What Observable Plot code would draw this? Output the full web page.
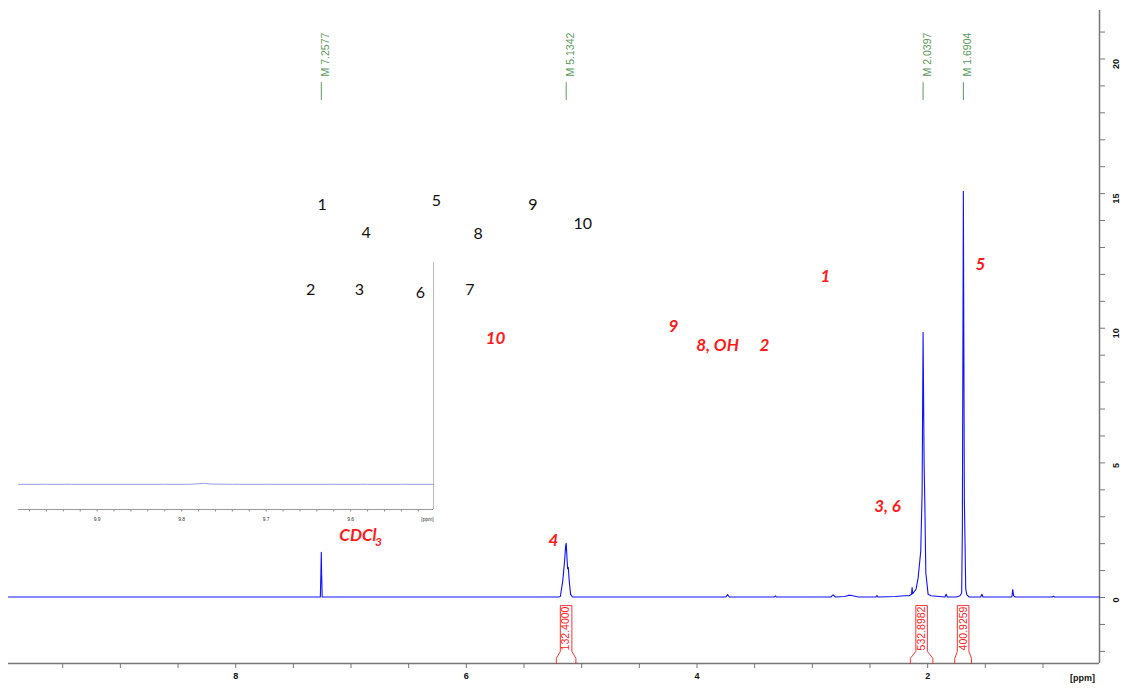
<!DOCTYPE html>
<html><head><meta charset="utf-8">
<script src="https://cdn.jsdelivr.net/npm/d3@7"></script>
<script src="https://cdn.jsdelivr.net/npm/@observablehq/plot@0.6"></script>
<style>
body{margin:0;background:#fff;}
#wrap{position:relative;width:1126px;height:690px;overflow:hidden;}
#main{position:absolute;left:0;top:0;}
#inset{position:absolute;left:0;top:262px;}
svg{background:transparent !important;}
</style></head><body><div id="wrap"><div id="main"></div><div id="inset"></div></div>
<script>
// ---- main 1H spectrum (ppm, intensity) ----
const ppm = [9.97, 9.5, 9.0, 8.5, 8.0, 7.6, 7.30, 7.266, 7.261, 7.2577, 7.255, 7.250, 7.0, 6.5, 6.0, 5.5,
  5.20, 5.185, 5.164, 5.148, 5.139, 5.1342, 5.128, 5.122, 5.116, 5.108, 5.096, 5.08, 4.5, 4.0,
  3.75, 3.735, 3.72, 3.33, 3.32, 3.31, 2.84, 2.82, 2.80, 2.72, 2.69, 2.66, 2.62, 2.60, 2.45, 2.44, 2.43,
  2.28, 2.20, 2.16, 2.14, 2.135, 2.13, 2.10, 2.083, 2.060, 2.048, 2.0397, 2.031, 2.025, 2.016, 1.996, 1.97,
  1.85, 1.84, 1.83, 1.75, 1.72, 1.705, 1.699, 1.6904, 1.682, 1.67, 1.66, 1.64,
  1.54, 1.53, 1.52, 1.27, 1.262, 1.255, 1.24, 0.92, 0.91, 0.90, 0.51];
const intensity = [0, 0, 0, 0, 0, 0, 0, 0, 0.9, 1.66, 0.85, 0, 0, 0, 0, 0,
  0, 0.02, 0.6, 1.35, 1.9, 2.0, 1.5, 1.05, 1.1, 0.6, 0.1, 0, 0, 0,
  0, 0.09, 0, 0, 0.04, 0, 0, 0.08, 0, 0.02, 0.06, 0.06, 0.02, 0, 0, 0.05, 0,
  0.02, 0.05, 0.05, 0.1, 0.35, 0.12, 0.3, 0.7, 1.7, 3.9, 9.83, 5.0, 3.6, 0.9, 0.1, 0.05,
  0, 0.1, 0, 0, 0.05, 0.15, 2.6, 15.07, 3.7, 0.3, 0.08, 0,
  0, 0.1, 0, 0, 0.28, 0.05, 0, 0, 0.03, 0, 0];

// ---- inset (9.99 – 9.50 ppm) ----
const insetPpm = [9.993, 9.96, 9.93, 9.90, 9.86, 9.82, 9.79, 9.782, 9.774, 9.766, 9.74, 9.70, 9.66, 9.62, 9.58, 9.54, 9.502];
const insetIntensity = [0, 0, 0, 0, 0, 0, 0, 0.015, 0.04, 0.01, 0, 0, 0, 0, 0, 0, 0];

// ---- peak markers ----
const markerPpm = [7.2577, 5.1342, 2.0397, 1.6904];
const markerText = ["M 7.2577", "M 5.1342", "M 2.0397", "M 1.6904"];

// ---- integrals ----
const integralFrom = [5.22, 2.15, 1.765];
const integralTo = [5.05, 1.955, 1.62];
const integralText = ["132.4000", "532.8982", "400.9259"];

// ---- structure atom numbers (black) ----
const atomText = ["1", "5", "9", "4", "8", "10", "2", "3", "6", "7"];
const atomPpm = [7.250, 6.259, 5.424, 6.869, 5.897, 4.990, 7.351, 6.927, 6.398, 5.970];
const atomInt = [14.58, 14.74, 14.58, 13.54, 13.51, 13.88, 11.44, 11.44, 11.30, 11.44];

// ---- peak assignments (red) ----
const assignText = ["1", "5", "9", "10", "8, OH", "2", "3, 6", "4", "CDCl"];
const assignPpm = [2.886, 1.542, 4.204, 5.747, 3.822, 3.415, 2.348, 5.244, 6.940];
const assignInt = [11.92, 12.37, 10.06, 9.62, 9.36, 9.36, 3.38, 2.12, 2.30];
const subText = ["3"], subPpm = [6.762], subInt = [2.04];

// ---- axis ticks ----
const xTicks = [9.5, 9, 8.5, 8, 7.5, 7, 6.5, 6, 5.5, 5, 4.5, 4, 3.5, 3, 2.5, 2, 1.5, 1];
const xTickLabels = [8, 6, 4, 2];
const yTicks = [-2, -1, 0, 1, 2, 3, 4, 5, 6, 7, 8, 9, 10, 11, 12, 13, 14, 15, 16, 17, 18, 19, 20, 21];
const yTickLabels = [0, 5, 10, 15, 20];
const insetTicks = [9.98, 9.96, 9.94, 9.92, 9.90, 9.88, 9.86, 9.84, 9.82, 9.80, 9.78, 9.76, 9.74, 9.72, 9.70, 9.68, 9.66, 9.64, 9.62, 9.60, 9.58, 9.56, 9.54, 9.52];
const insetTickLabels = [9.9, 9.8, 9.7, 9.6];

// ---- build tables ----
const spectrum = ppm.map((p, i) => ({p, v: intensity[i]}));
const insetSpec = insetPpm.map((p, i) => ({p, v: insetIntensity[i]}));
const markers = markerPpm.map((p, i) => ({p, t: markerText[i]}));
const atoms = atomText.map((t, i) => ({t, p: atomPpm[i], v: atomInt[i]}));
const assigns = assignText.map((t, i) => ({t, p: assignPpm[i], v: assignInt[i]}));
const subs = subText.map((t, i) => ({t, p: subPpm[i], v: subInt[i]}));
const XMIN = 9.97, XMAX = 0.51, YMIN = -2.45, YMAX = 21.8;
const hw = 0.05;
const integrals = integralText.map((t, i) => ({t, f: integralFrom[i], to: integralTo[i], c: (integralFrom[i] + integralTo[i]) / 2, id: i}));
const brackets = integrals.flatMap(d => [
  {id: d.id, p: d.f, v: YMIN}, {id: d.id, p: d.f, v: -2.26}, {id: d.id, p: d.c + hw, v: -2.0},
  {id: d.id, p: d.c + hw, v: -0.3}, {id: d.id, p: d.c - hw, v: -0.3}, {id: d.id, p: d.c - hw, v: -2.0},
  {id: d.id, p: d.to, v: -2.26}, {id: d.id, p: d.to, v: YMIN}
]);

const AX = "#767676", GREEN = "#5a9a5a", RED = "#ff1a1a", BLUE = "#1010ff";
const sans = "Liberation Sans, Arial, sans-serif";

const main = Plot.plot({
  width: 1126, height: 690,
  marginLeft: 8, marginRight: 27, marginTop: 10, marginBottom: 27,
  x: {domain: [XMIN, XMAX], axis: null},
  y: {domain: [YMIN, YMAX], axis: null},
  style: {background: "transparent", fontFamily: sans},
  marks: [
    Plot.axisX({anchor: "bottom", ticks: xTicks, tickSize: 5, tickFormat: () => "", stroke: AX, label: null}),
    Plot.axisY({anchor: "right", ticks: yTicks, tickSize: 5, tickFormat: () => "", stroke: AX, label: null}),
    Plot.ruleY([YMIN], {stroke: AX, strokeWidth: 1.5}),
    Plot.ruleX([XMAX], {stroke: AX, strokeWidth: 1.5}),
    Plot.text(xTickLabels, {x: d => d, frameAnchor: "bottom", dy: 15, text: d => String(d), fontWeight: "bold", fontSize: 9, fill: "#111"}),
    Plot.text(["[ppm]"], {frameAnchor: "bottom-right", dx: -17, dy: 17, text: d => d, textAnchor: "middle", fontWeight: "bold", fontSize: 9, fill: "#111"}),
    Plot.text(yTickLabels, {y: d => d, frameAnchor: "right", dx: 17, rotate: -90, text: d => String(d), fontWeight: "bold", fontSize: 9, fill: "#111"}),
    // integrals
    Plot.line(brackets, {x: "p", y: "v", z: "id", stroke: RED, strokeWidth: 0.9}),
    Plot.text(integrals, {x: "c", y: -1.15, text: "t", rotate: -90, fill: RED, fontSize: 10.5}),
    // spectrum
    Plot.line(spectrum, {x: "p", y: "v", stroke: BLUE, strokeWidth: 1.1, dy: -0.5}),
    // markers
    Plot.ruleX(markers, {x: "p", y1: 18.46, y2: 19.12, stroke: GREEN, strokeWidth: 1}),
    Plot.text(markers, {x: "p", frameAnchor: "top", dy: 44, text: "t", rotate: -90, fill: GREEN, fontSize: 10.5}),
    // structure numbers
    Plot.text(atoms, {x: "p", y: "v", text: "t", fill: "#111", fontSize: 16, fontFamily: "Lato, Open Sans, sans-serif"}),
    // assignments
    Plot.text(assigns, {x: "p", y: "v", text: "t", fill: RED, fontSize: 17, fontWeight: "bold", fontStyle: "italic", fontFamily: "Lato, Open Sans, sans-serif"}),
    Plot.text(subs, {x: "p", y: "v", text: "t", fill: RED, fontSize: 12, fontWeight: "bold", fontStyle: "italic", fontFamily: "Lato, Open Sans, sans-serif"})
  ]
});
document.getElementById("main").appendChild(main);

const inset = Plot.plot({
  width: 440, height: 262,
  marginLeft: 18, marginRight: 7, marginTop: 0, marginBottom: 15,
  x: {domain: [9.993, 9.502], axis: null},
  y: {domain: [-1, 9], axis: null},
  style: {background: "transparent", fontFamily: sans},
  marks: [
    Plot.axisX({anchor: "bottom", ticks: insetTicks, tickSize: 2.5, tickFormat: () => "", stroke: "#888", label: null}),
    Plot.ruleY([-1], {stroke: "#999", strokeWidth: 1}),
    Plot.ruleX([9.502], {stroke: "#bbb", strokeWidth: 1}),
    Plot.text(insetTickLabels, {x: d => d, frameAnchor: "bottom", dy: 11, text: d => d.toFixed(1), fontSize: 5, fill: "#333"}),
    Plot.text(["[ppm]"], {frameAnchor: "bottom-right", dx: -6, dy: 11, text: d => d, textAnchor: "middle", fontSize: 5, fill: "#333"}),
    Plot.line(insetSpec, {x: "p", y: "v", stroke: "#9a9ae6", strokeWidth: 1, dy: -0.5})
  ]
});
document.getElementById("inset").appendChild(inset);
</script></body></html>
